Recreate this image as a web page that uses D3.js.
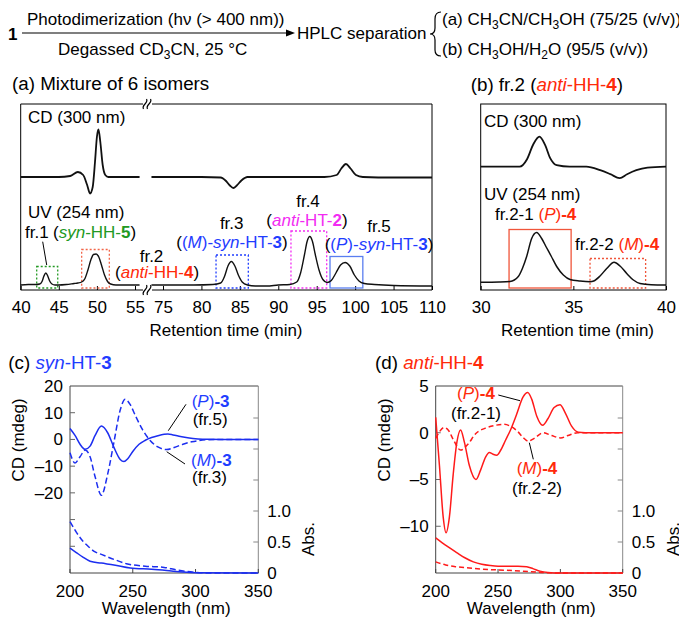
<!DOCTYPE html>
<html>
<head>
<meta charset="utf-8">
<script src="https://cdn.jsdelivr.net/npm/d3@7"></script>
<style>
  body { margin: 0; background: #fff; }
  svg text { font-family: "Liberation Sans", Arial, Helvetica, sans-serif; font-size: 17px; fill: #000; }
</style>
</head>
<body>
<div id="chart"></div>
<script>
// ---------------- data ----------------
// (a) HPLC of the 6-isomer mixture, left piece of the broken axis (min)
var tUvA1  = [40, 41, 42, 42.5, 42.8, 43.05, 43.3, 43.55, 43.8, 44.1, 44.5, 45, 46, 47, 47.5, 48, 48.4, 48.8, 49.2, 49.55, 49.9, 50.25, 50.6, 51, 51.4, 51.8, 52.5, 53.5, 54.5, 55.6];
var uvA1   = [0, 0.01, 0.01, 0.02, 0.07, 0.18, 0.24, 0.18, 0.08, 0.02, 0, 0, 0.01, 0.03, 0.04, 0.06, 0.12, 0.29, 0.5, 0.61, 0.62, 0.56, 0.4, 0.2, 0.07, 0.02, 0, 0, 0, 0];
var tCdA1  = [40, 45, 46.5, 47.5, 48.2, 48.7, 49.1, 49.45, 49.75, 50.0, 50.2, 50.45, 50.75, 51.1, 51.5, 53, 55.6];
var cdA1   = [0, 0, 0.02, 0.1, 0.04, -0.15, -0.33, -0.2, 0.3, 0.8, 0.95, 0.7, 0.25, 0.04, 0, 0, 0];
// right piece
var tUvA2  = [73.5, 76, 79, 81.5, 82.5, 83, 83.45, 83.9, 84.35, 84.8, 85.3, 86, 87, 88.5, 90, 91.5, 92.4, 92.9, 93.4, 93.75, 94.1, 94.45, 94.8, 95.3, 95.8, 96.35, 96.9, 97.5, 98.1, 98.7, 99.3, 99.9, 100.5, 101.2, 102.5, 105, 110];
var uvA2   = [0, 0, 0, 0.01, 0.04, 0.17, 0.38, 0.47, 0.38, 0.2, 0.06, 0, -0.02, -0.02, 0, 0.01, 0.06, 0.24, 0.6, 0.87, 0.97, 0.87, 0.62, 0.3, 0.11, 0.05, 0.09, 0.24, 0.4, 0.45, 0.38, 0.2, 0.08, 0.03, 0.01, -0.01, -0.02];
var tCdA2  = [73.5, 80, 82.5, 83.2, 83.7, 84.15, 84.6, 85.2, 86, 90, 96, 97.6, 98.2, 98.8, 99.4, 100.1, 101, 105, 110];
var cdA2   = [0, 0, -0.01, -0.08, -0.17, -0.22, -0.17, -0.07, 0, 0, 0, 0.04, 0.17, 0.26, 0.17, 0.04, 0, -0.01, -0.01];
var ticksA1 = [40, 45, 50, 55];
var ticksA2 = [75, 80, 85, 90, 95, 100, 105, 110];

// (b) fr.2 re-separated
var tUvB = [30, 31, 31.58, 32.03, 32.25, 32.48, 32.75, 33.02, 33.29, 33.55, 33.8, 34.1, 34.46, 34.82, 35.36, 35.9, 36.1, 36.44, 36.8, 37.2, 37.52, 37.88, 38.24, 38.6, 39.2, 40];
var uvB  = [0.055, 0.06, 0.07, 0.17, 0.33, 0.57, 0.93, 1.05, 0.93, 0.75, 0.58, 0.37, 0.2, 0.11, 0.08, 0.065, 0.08, 0.18, 0.33, 0.454, 0.38, 0.23, 0.1, 0.03, 0.005, 0];
var tCdB = [30, 32.1, 32.5, 32.84, 33.17, 33.48, 33.75, 34.1, 34.8, 35.7, 36.45, 37, 37.5, 37.9, 38.4, 39, 40];
var cdB  = [0, 0, 0.15, 0.45, 0.6, 0.43, 0.17, 0.03, 0, 0, -0.07, -0.15, -0.23, -0.15, -0.07, -0.02, 0];
var ticksB = [30, 35, 40];

// (c) syn-HT-3 spectra (nm / mdeg / Abs)
var wlP3   = [200, 204, 208, 212, 216, 220, 225, 230, 235, 240, 243, 246, 250, 255, 260, 265, 270, 275, 278, 282, 288, 295, 302, 310, 320, 350];
var cdP3   = [4.1, 1.5, -1.8, -3.7, -2.5, 1.5, 5.0, 2.5, -3.0, -7.5, -8.3, -7.2, -4.5, -1.8, -0.3, 0.7, 1.4, 1.9, 2.0, 1.7, 1.1, 0.5, 0.2, 0.05, 0, 0];
var wlM3   = [200, 204, 208, 212, 216, 220, 225, 230, 235, 240, 244, 248, 252, 258, 264, 270, 277, 283, 290, 297, 303, 310, 320, 350];
var cdM3   = [-5.0, -8.8, -6.5, -4.0, -6.5, -14, -20.9, -13, -1.0, 11, 15, 13, 9, 3.5, -0.5, -2.8, -3.8, -3.0, -1.8, -0.9, -0.4, -0.1, 0, 0];
var wlAbsP3 = [200, 205, 210, 216, 225, 235, 248, 265, 277, 290, 300, 350];
var absP3   = [0.40, 0.33, 0.26, 0.19, 0.16, 0.13, 0.08, 0.06, 0.04, 0.015, 0.005, 0];
var wlAbsM3 = [200, 205, 210, 215, 220, 225, 235, 245, 260, 275, 285, 293, 300, 310, 350];
var absM3   = [0.83, 0.66, 0.52, 0.42, 0.34, 0.30, 0.22, 0.15, 0.11, 0.09, 0.05, 0.025, 0.01, 0, 0];

// (d) anti-HH-4 spectra
var wlP4   = [200, 203, 206, 208.3, 211, 214, 217, 220, 223, 227, 232.3, 236, 240, 243, 246, 249, 252, 256, 260, 265, 270, 273.8, 277, 281, 285.8, 290, 295, 299.7, 304, 309, 314.4, 320, 350];
var cdP4   = [1.65, -3.5, -9.0, -10.7, -9.0, -4.5, -1.0, 0.3, -1.0, -3.5, -5.0, -4.0, -2.6, -2.1, -2.3, -2.4, -1.9, -0.8, 0.3, 2.0, 3.8, 4.3, 3.6, 1.8, 0.8, 1.5, 2.7, 3.0, 2.1, 0.7, 0.05, 0, 0];
var wlM4   = [200, 203, 206.6, 210, 214, 220, 226, 232, 240, 248, 254.3, 260, 266, 270, 274.3, 279, 286.3, 293, 300.3, 306, 314, 320, 350];
var cdM4   = [-0.6, 0.1, 0.55, 0.3, -0.7, -1.85, -1.2, -0.1, 0.5, 0.8, 0.9, 0.7, 0.1, -0.5, -0.9, -0.6, 0.0, -0.3, -0.55, -0.3, 0, 0, 0];
var wlAbsP4 = [200, 205, 210, 216.8, 223, 230.2, 237, 243.6, 250, 259.6, 266, 273, 278, 283.7, 290, 300, 350];
var absP4   = [0.565, 0.49, 0.42, 0.33, 0.25, 0.18, 0.14, 0.12, 0.11, 0.11, 0.11, 0.10, 0.07, 0.03, 0.01, 0, 0];
var wlAbsM4 = [200, 208, 216.8, 230, 243.6, 256, 270, 285, 300, 350];
var absM4   = [0.18, 0.13, 0.10, 0.075, 0.055, 0.045, 0.03, 0.01, 0, 0];

var wlTicks = [200, 250, 300, 350];
var absTicks = [0, 0.5, 1.0, 1.5, 2.0, 2.5];
var absLabels = [0, 0.5, 1.0];

// colours
var GREEN = "#229922", RED = "#ff2a0a", BLUE = "#1f3dff", MAGENTA = "#f22cf2";
var BOXRED = "#f2664a", BOXBLUE = "#5a7ef0";

// ---------------- helpers ----------------
var svg = d3.select("#chart").append("svg")
  .attr("width", 679)
  .attr("height", 619);

function zip(xs, ys) {
  return xs.map(function(x, i) { return [x, ys[i]]; });
}

// parts: [text, flags, colour]; flags: i = italic, b = bold, s = subscript
function richText(g, x, y, parts, anchor) {
  var t = g.append("text").attr("x", x).attr("y", y)
    .attr("text-anchor", anchor || "start");
  var shift = 0;
  parts.forEach(function(p) {
    var f = p[1] || "";
    var s = t.append("tspan").text(p[0]);
    if (f.indexOf("i") >= 0) s.attr("font-style", "italic");
    if (f.indexOf("b") >= 0) s.attr("font-weight", "bold");
    if (p[2]) s.style("fill", p[2]);
    var sub = f.indexOf("s") >= 0 ? 4 : 0;
    if (sub != shift) { s.attr("dy", sub - shift); shift = sub; }
    if (sub) s.style("font-size", "12px");
  });
  return t;
}

function trace(g, data, x, y, color, width, dash) {
  var line = d3.line()
    .x(function(d) { return x(d[0]); })
    .y(function(d) { return y(d[1]); })
    .curve(d3.curveMonotoneX);
  g.append("path")
    .datum(data)
    .attr("d", line)
    .attr("fill", "none")
    .attr("stroke", color)
    .attr("stroke-width", width)
    .attr("stroke-linejoin", "round")
    .attr("stroke-dasharray", dash || null);
}

function box(g, x, y, t0, t1, ytop, color, dash) {
  g.append("rect")
    .attr("x", x(t0)).attr("y", y(ytop))
    .attr("width", x(t1) - x(t0)).attr("height", y(-0.06) - y(ytop))
    .attr("fill", "none")
    .attr("stroke", color)
    .attr("stroke-width", 1.3)
    .attr("stroke-dasharray", dash ? "2,2" : null);
}

function leader(g, x1, y1, x2, y2) {
  g.append("line").attr("x1", x1).attr("y1", y1).attr("x2", x2).attr("y2", y2)
    .attr("stroke", "#000").attr("stroke-width", 1);
}

function bottomAxis(g, x, ticks, yPos) {
  var ax = g.append("g")
    .attr("transform", "translate(0," + yPos + ")")
    .call(d3.axisBottom(x).tickValues(ticks).tickSizeInner(-4).tickSizeOuter(0).tickPadding(11));
  ax.select(".domain").remove();
  ax.selectAll("line").attr("stroke", "#000");
  ax.selectAll("text").style("font-size", "17px").attr("fill", "#000");
  return ax;
}

// ---------------- reaction scheme ----------------
var gTop = svg.append("g");
richText(gTop, 8, 40, [["1", "b"]]);
gTop.append("line").attr("x1", 22).attr("y1", 33).attr("x2", 288).attr("y2", 33)
  .attr("stroke", "#000").attr("stroke-width", 1.2);
gTop.append("path").attr("d", "M286,29.5 L295,33 L286,36.5 Z").attr("fill", "#000");
richText(gTop, 27, 25, [["Photodimerization (h\u03BD (> 400 nm))"]]);
richText(gTop, 58, 55, [["Degassed CD"], ["3", "s"], ["CN, 25 \u00B0C"]]);
richText(gTop, 297, 39, [["HPLC separation"]]);
gTop.append("path")
  .attr("d", "M441,12 Q435,12 435,19 L435,28 Q435,34 430,34 Q435,34 435,40 L435,50 Q435,56 441,56")
  .attr("fill", "none").attr("stroke", "#000").attr("stroke-width", 1.2);
richText(gTop, 442, 25, [["(a) CH"], ["3", "s"], ["CN/CH"], ["3", "s"], ["OH (75/25 (v/v))"]]);
richText(gTop, 442, 55, [["(b) CH"], ["3", "s"], ["OH/H"], ["2", "s"], ["O (95/5 (v/v))"]]);

// ---------------- (a) mixture of 6 isomers ----------------
var ga = svg.append("g");
var xa1 = d3.scaleLinear().domain([40, 55]).range([20.7, 135]);
var xa2 = d3.scaleLinear().domain([75, 110]).range([163, 432]);
var uvYa = d3.scaleLinear().domain([0, 1]).range([285, 235]);
var cdYa = d3.scaleLinear().domain([0, 1]).range([177, 127]);
var aTop = 104, aBot = 290, aL = 20.7, aR = 432, brk = 147;

richText(ga, 12, 90, [["(a) Mixture of 6 isomers"]]).style("font-size", "18.8px");

// frame with the axis break
[aTop, aBot].forEach(function(yy) {
  ga.append("line").attr("x1", aL).attr("x2", brk - 4).attr("y1", yy).attr("y2", yy).attr("stroke", "#000");
  ga.append("line").attr("x1", brk + 5).attr("x2", aR).attr("y1", yy).attr("y2", yy).attr("stroke", "#000");
  [-2, 2].forEach(function(dx) {
    var cx = brk + dx;
    ga.append("path")
      .attr("d", "M" + (cx - 1.5) + "," + (yy + 5) + " C" + (cx - 4) + "," + (yy + 1) + " " + (cx + 4) + "," + (yy - 1) + " " + (cx + 1.5) + "," + (yy - 5))
      .attr("fill", "none").attr("stroke", "#000").attr("stroke-width", 1.2);
  });
});
ga.append("line").attr("x1", aL).attr("x2", aL).attr("y1", aTop).attr("y2", aBot).attr("stroke", "#000");
ga.append("line").attr("x1", aR).attr("x2", aR).attr("y1", aTop).attr("y2", aBot).attr("stroke", "#000");

bottomAxis(ga, xa1, ticksA1, aBot);
bottomAxis(ga, xa2, ticksA2, aBot);
ga.append("text").attr("x", 226).attr("y", 336).attr("text-anchor", "middle").text("Retention time (min)");

// boxes
box(ga, xa1, uvYa, 42.1, 44.86, 0.37, GREEN, true);
box(ga, xa1, uvYa, 48.0, 51.63, 0.71, BOXRED, true);
box(ga, xa2, uvYa, 81.9, 86.1, 0.6, BLUE, true);
box(ga, xa2, uvYa, 91.65, 96.3, 1.08, MAGENTA, true);
box(ga, xa2, uvYa, 96.73, 101.0, 0.57, BOXBLUE, false);

trace(ga, zip(tCdA1, cdA1), xa1, cdYa, "#111", 1.8);
trace(ga, zip(tCdA2, cdA2), xa2, cdYa, "#111", 1.8);
trace(ga, zip(tUvA1, uvA1), xa1, uvYa, "#111", 1.4);
trace(ga, zip(tUvA2, uvA2), xa2, uvYa, "#111", 1.4);

richText(ga, 28, 123, [["CD (300 nm)"]]);
richText(ga, 28, 218, [["UV (254 nm)"]]);
richText(ga, 25, 238, [["fr.1"]]);
richText(ga, 53, 238, [["("], ["syn", "i", GREEN], ["-HH-", "", GREEN], ["5", "b", GREEN], [")"]]);
leader(ga, 42.7, 241.7, 46.7, 265);
richText(ga, 151.5, 261.5, [["fr.2"]], "middle");
richText(ga, 115, 277.5, [["("], ["anti", "i", RED], ["-HH-", "", RED], ["4", "b", RED], [")"]]);
richText(ga, 231.7, 229.3, [["fr.3"]], "middle");
richText(ga, 232, 248.3, [["("], ["(", "", BLUE], ["M", "i", BLUE], [")-", "", BLUE], ["syn", "i", BLUE], ["-HT-", "", BLUE], ["3", "b", BLUE], [")"]], "middle");
richText(ga, 308, 207.3, [["fr.4"]], "middle");
richText(ga, 307, 225.7, [["("], ["anti", "i", MAGENTA], ["-HT-", "", MAGENTA], ["2", "b", MAGENTA], [")"]], "middle");
richText(ga, 379, 232.3, [["fr.5"]], "middle");
richText(ga, 379, 250, [["("], ["(", "", BLUE], ["P", "i", BLUE], [")-", "", BLUE], ["syn", "i", BLUE], ["-HT-", "", BLUE], ["3", "b", BLUE], [")"]], "middle");

// ---------------- (b) fr.2 ----------------
var gb = svg.append("g");
var xb = d3.scaleLinear().domain([30, 40]).range([480.7, 666]);
var uvYb = d3.scaleLinear().domain([0, 1]).range([285, 235]);
var cdYb = d3.scaleLinear().domain([0, 1]).range([166.7, 116.7]);

richText(gb, 470.7, 90.7, [["(b) fr.2 ("], ["anti", "i", RED], ["-HH-", "", RED], ["4", "b", RED], [")"]]).style("font-size", "18.8px");
gb.append("rect").attr("x", 480.7).attr("y", aTop).attr("width", 666 - 480.7).attr("height", aBot - aTop)
  .attr("fill", "none").attr("stroke", "#000");
bottomAxis(gb, xb, ticksB, aBot);
gb.append("text").attr("x", 577.5).attr("y", 336).attr("text-anchor", "middle").text("Retention time (min)");

box(gb, xb, uvYb, 31.53, 34.88, 1.11, "#f0553a", false);
box(gb, xb, uvYb, 35.9, 38.9, 0.53, "#f0553a", true);

trace(gb, zip(tCdB, cdB), xb, cdYb, "#111", 1.8);
trace(gb, zip(tUvB, uvB), xb, uvYb, "#111", 1.5);

richText(gb, 484, 127.3, [["CD (300 nm)"]]);
richText(gb, 484, 200, [["UV (254 nm)"]]);
richText(gb, 495, 220, [["fr.2-1 "], ["(", "", RED], ["P", "i", RED], [")", "", RED], ["-4", "b", RED]]);
richText(gb, 575, 250, [["fr.2-2 "], ["(", "", RED], ["M", "i", RED], [")", "", RED], ["-4", "b", RED]]);

// ---------------- spectra panels (c) and (d) ----------------
function spectrumPanel(opts) {
  var g = svg.append("g");
  var x = d3.scaleLinear().domain([200, 350]).range([opts.left, opts.right]);
  var yCd = d3.scaleLinear().domain(opts.cdDomain).range([573, 386]);
  var yAbs = d3.scaleLinear().domain([0, 3]).range([573, 387]);

  richText(g, opts.titleX, 369.3, opts.title).style("font-size", "18.8px");

  // frame
  g.append("line").attr("x1", opts.left).attr("x2", opts.right).attr("y1", 386).attr("y2", 386).attr("stroke", "#444");
  g.append("line").attr("x1", opts.left).attr("x2", opts.left).attr("y1", 386).attr("y2", 573).attr("stroke", "#444");
  g.append("line").attr("x1", opts.right).attr("x2", opts.right).attr("y1", 386).attr("y2", 573).attr("stroke", "#888");
  g.append("line").attr("x1", opts.left).attr("x2", opts.right).attr("y1", 573).attr("y2", 573).attr("stroke", "#444");

  // left CD axis
  opts.cdTicks.forEach(function(v) {
    g.append("line").attr("x1", opts.left).attr("x2", opts.left + 5)
      .attr("y1", yCd(v)).attr("y2", yCd(v)).attr("stroke", "#666");
  });
  opts.cdLabels.forEach(function(v) {
    g.append("text").attr("x", opts.left - 7).attr("y", yCd(v)).attr("dy", "0.35em")
      .attr("text-anchor", "end").text(v < 0 ? "\u2013" + Math.abs(v) : v);
  });
  // right Abs axis
  absTicks.forEach(function(v) {
    g.append("line").attr("x1", opts.right - 5).attr("x2", opts.right)
      .attr("y1", yAbs(v)).attr("y2", yAbs(v)).attr("stroke", "#888");
  });
  absLabels.forEach(function(v) {
    g.append("text").attr("x", opts.right + 9).attr("y", yAbs(v)).attr("dy", "0.35em")
      .text(v === 0 ? "0" : d3.format(".1f")(v));
  });
  // bottom axis
  wlTicks.forEach(function(v) {
    g.append("line").attr("x1", x(v)).attr("x2", x(v)).attr("y1", 573).attr("y2", 569).attr("stroke", "#444");
    g.append("text").attr("x", x(v)).attr("y", 596.7).attr("text-anchor", "middle").text(v);
  });
  g.append("text").attr("x", (opts.left + opts.right) / 2 + 2).attr("y", 614)
    .attr("text-anchor", "middle").text("Wavelength (nm)");
  g.append("text").attr("transform", "translate(" + (opts.left - 46) + ",440) rotate(-90)")
    .attr("text-anchor", "middle").text("CD (mdeg)");
  g.append("text").attr("transform", "translate(" + (opts.right + 56) + ",539) rotate(-90)")
    .attr("text-anchor", "middle").text("Abs.");

  opts.cd.forEach(function(s) { trace(g, s[0], x, yCd, opts.color, 1.5, s[1]); });
  opts.abs.forEach(function(s) { trace(g, s[0], x, yAbs, opts.color, 1.5, s[1]); });
  return g;
}

var gc = spectrumPanel({
  left: 70, right: 258.3, titleX: 8.3, color: "#1c2ef0",
  cdDomain: [-50, 20], cdTicks: [10, 0, -10, -20, -30, -40], cdLabels: [20, 10, 0, -10, -20],
  title: [["(c) "], ["syn", "i", BLUE], ["-HT-", "", BLUE], ["3", "b", BLUE]],
  cd: [[zip(wlP3, cdP3), null], [zip(wlM3, cdM3), "6,3"]],
  abs: [[zip(wlAbsP3, absP3), null], [zip(wlAbsM3, absM3), "6,3"]]
});
richText(gc, 191.7, 406.7, [["(", "", BLUE], ["P", "i", BLUE], [")", "", BLUE], ["-3", "b", BLUE]]);
richText(gc, 192.7, 425, [["(fr.5)"]]);
richText(gc, 191, 466, [["(", "", BLUE], ["M", "i", BLUE], [")", "", BLUE], ["-3", "b", BLUE]]);
richText(gc, 192, 483.3, [["(fr.3)"]]);
leader(gc, 186, 404.3, 168.3, 430.7);
leader(gc, 185, 464, 166.7, 451.7);

var gd = spectrumPanel({
  left: 435.7, right: 622.7, titleX: 375, color: "#ff1a1a",
  cdDomain: [-15, 5], cdTicks: [0, -5, -10], cdLabels: [5, 0, -5, -10],
  title: [["(d) "], ["anti", "i", RED], ["-HH-", "", RED], ["4", "b", RED]],
  cd: [[zip(wlP4, cdP4), null], [zip(wlM4, cdM4), "5,3"]],
  abs: [[zip(wlAbsP4, absP4), null], [zip(wlAbsM4, absM4), "5,3"]]
});
richText(gd, 476, 399, [["(", "", RED], ["P", "i", RED], [")", "", RED], ["-4", "b", RED]], "middle");
richText(gd, 476, 419, [["(fr.2-1)"]], "middle");
richText(gd, 537, 474, [["(", "", RED], ["M", "i", RED], [")", "", RED], ["-4", "b", RED]], "middle");
richText(gd, 537, 494, [["(fr.2-2)"]], "middle");
leader(gd, 498.3, 395, 520, 400.7);
leader(gd, 533.3, 459.3, 529.3, 442.7);
</script>
</body>
</html>
